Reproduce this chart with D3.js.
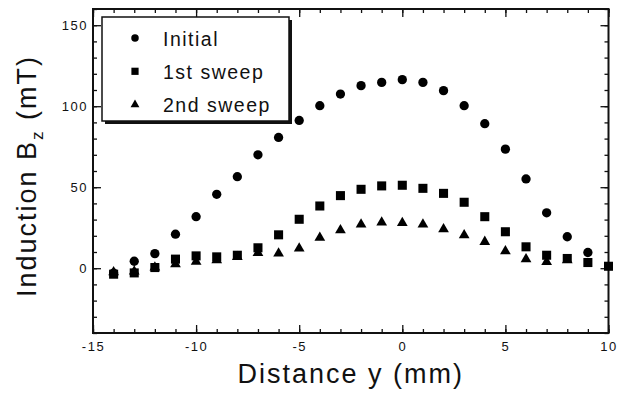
<!DOCTYPE html>
<html lang="en">
<head>
<meta charset="UTF-8" />
<title>Induction Bz vs distance</title>
<script src="https://d3js.org/d3.v7.min.js"></script>
<style>
    body { margin: 0; background: #fff; font-family: 'Liberation Sans', Arial, sans-serif; }
    .tick text { font-family: 'Liberation Sans', Arial, sans-serif; font-size: 13px; letter-spacing: 1.5px; fill: #111; }
    .axis .domain { display: none; }
    .axis line { stroke: #111; stroke-width: 1.3; }
</style>
</head>
<body>
<svg width="624" height="393"></svg>
<script>

// data (distance in mm, Bz in mT)
var distance = [-14, -13, -12, -11, -10, -9, -8, -7, -6, -5, -4, -3, -2, -1, 0, 1, 2, 3, 4, 5, 6, 7, 8, 9, 10];
var initial = [-3, 4.3, 9, 21, 31.8, 45.6, 56.5, 70, 80.7, 91.2, 100.3, 107.5, 112.7, 114.7, 116.4, 114.7, 109.6, 100.3, 89.2, 73.5, 55.1, 34.2, 19.4, 9.7];
var sweep1 = [-3.7, -2.9, 0.4, 5.6, 7.6, 7, 8, 12.6, 20.6, 30.2, 38.4, 44.8, 48.7, 50.8, 51.2, 49.3, 46.2, 40.7, 31.8, 22.5, 13.2, 8, 6, 3.5, 1.2];
var sweep2 = [-2.5, -2, 0.5, 2.5, 4, 5, 7, 9.5, 9.1, 12.2, 18.8, 23.5, 27, 28.3, 28, 27, 24.1, 20.4, 16.3, 10.5, 5.6, 3.9, 5];

var xTicks = [-15, -10, -5, 0, 5, 10];
var yTicks = [0, 50, 100, 150];
var seriesNames = ["Initial", "1st sweep", "2nd sweep"];

var svg = d3.select("svg");
var pLeft = 93, pRight = 608.5, pTop = 9, pBottom = 333;

var x = d3.scaleLinear().domain([-15, 10]).range([pLeft, pRight]);
var y = d3.scaleLinear().domain([-40, 160]).range([pBottom, pTop]);
var plain = function(d) { return String(d); };

// minor ticks on all four sides
var g = svg.append("g");
g.append("g").attr("class", "axis").attr("transform", "translate(0," + pBottom + ")")
    .call(d3.axisBottom(x).tickValues(d3.range(-15, 11, 1)).tickSize(-4).tickFormat(""));
g.append("g").attr("class", "axis").attr("transform", "translate(0," + pTop + ")")
    .call(d3.axisTop(x).tickValues(d3.range(-15, 11, 1)).tickSize(-4).tickFormat(""));
g.append("g").attr("class", "axis").attr("transform", "translate(" + pLeft + ",0)")
    .call(d3.axisLeft(y).tickValues(d3.range(-40, 161, 10)).tickSize(-4).tickFormat(""));
g.append("g").attr("class", "axis").attr("transform", "translate(" + pRight + ",0)")
    .call(d3.axisRight(y).tickValues(d3.range(-40, 161, 10)).tickSize(-4).tickFormat(""));

// major ticks with labels
g.append("g").attr("class", "axis").attr("transform", "translate(0," + pBottom + ")")
    .call(d3.axisBottom(x).tickValues(xTicks).tickSize(-8).tickPadding(9).tickFormat(plain));
g.append("g").attr("class", "axis").attr("transform", "translate(0," + pTop + ")")
    .call(d3.axisTop(x).tickValues(xTicks).tickSize(-8).tickFormat(""));
g.append("g").attr("class", "axis").attr("transform", "translate(" + pLeft + ",0)")
    .call(d3.axisLeft(y).tickValues(yTicks).tickSize(-8).tickPadding(5).tickFormat(plain));
g.append("g").attr("class", "axis").attr("transform", "translate(" + pRight + ",0)")
    .call(d3.axisRight(y).tickValues(yTicks).tickSize(-8).tickFormat(""));

// frame
svg.append("rect")
    .attr("x", pLeft).attr("y", pTop)
    .attr("width", pRight - pLeft).attr("height", pBottom - pTop)
    .attr("fill", "none").attr("stroke", "#111").attr("stroke-width", 2);

// markers
var sym = [
    d3.symbol().type(d3.symbolCircle).size(68),
    d3.symbol().type(d3.symbolSquare).size(82),
    d3.symbol().type(d3.symbolTriangle).size(50)
];
var series = [sweep2, sweep1, initial];
var symIdx = [2, 1, 0];
series.forEach(function(vals, k) {
    svg.append("g").selectAll("path")
        .data(vals)
        .enter().append("path")
        .attr("d", sym[symIdx[k]])
        .attr("transform", function(d, i) { return "translate(" + x(distance[i]) + "," + y(d) + ")"; })
        .attr("fill", "#000");
});

// legend with drop shadow
var lg = svg.append("g");
lg.append("rect").attr("x", 105).attr("y", 20).attr("width", 187).attr("height", 104).attr("fill", "#111");
lg.append("rect").attr("x", 102).attr("y", 17).attr("width", 187).attr("height", 104)
    .attr("fill", "#fff").attr("stroke", "#111").attr("stroke-width", 1.5);
var legSym = [
    d3.symbol().type(d3.symbolCircle).size(44),
    d3.symbol().type(d3.symbolSquare).size(52),
    d3.symbol().type(d3.symbolTriangle).size(34)
];
seriesNames.forEach(function(name, i) {
    var cy = 38 + i * 33.3;
    lg.append("path").attr("d", legSym[i])
        .attr("transform", "translate(135," + cy + ")").attr("fill", "#000");
    lg.append("text").attr("x", 163).attr("y", cy + 7.5)
        .style("font-size", "19.5px").style("letter-spacing", "1.5px").attr("fill", "#111")
        .text(name);
});

// axis titles
svg.append("text")
    .attr("x", (pLeft + pRight) / 2).attr("y", 383)
    .attr("text-anchor", "middle")
    .style("font-size", "27px").style("letter-spacing", "2px").attr("fill", "#111")
    .text("Distance y (mm)");

var yl = svg.append("text")
    .attr("transform", "translate(36,176) rotate(-90)")
    .attr("text-anchor", "middle")
    .style("font-size", "27px").style("letter-spacing", "2px").attr("fill", "#111");
yl.append("tspan").text("Induction B");
yl.append("tspan").attr("dy", 7).style("font-size", "17px").text("z");
yl.append("tspan").attr("dy", -7).text(" (mT)");

</script>
</body>
</html>
